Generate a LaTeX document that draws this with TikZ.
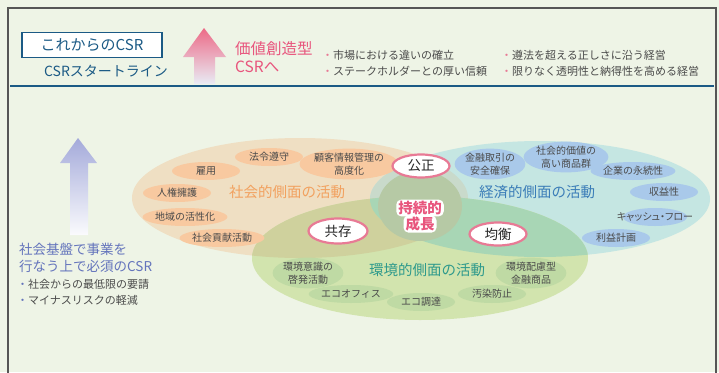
\documentclass[tikz,border=0pt]{standalone}
\usepackage{fontspec}
\setmainfont{Noto Sans CJK JP}
\newfontfamily\paltfont[RawFeature=+palt]{Noto Sans CJK JP}
\usetikzlibrary{shapes.geometric}
\definecolor{bg}{HTML}{EEF4E6}
\definecolor{frame}{HTML}{555555}
\definecolor{navy}{HTML}{1B5A85}
\definecolor{pinkt}{HTML}{E8557D}
\definecolor{pinkb}{HTML}{E87A95}
\definecolor{pinkarrow}{HTML}{EC6A86}
\definecolor{bluearrow}{HTML}{A4AADA}
\definecolor{bluet}{HTML}{6474BC}
\definecolor{lab}{HTML}{4A4A4A}
\definecolor{soc}{HTML}{EFDFC3}
\definecolor{socpill}{HTML}{F8C9A0}
\definecolor{eco}{HTML}{C5E6E2}
\definecolor{ecopill}{HTML}{A9C9EA}
\definecolor{env}{HTML}{D2E4AE}
\definecolor{envpill}{HTML}{BFDAA4}
\definecolor{socenv}{HTML}{CFD19D}
\definecolor{ecoenv}{HTML}{A8D6B5}
\definecolor{soceco}{HTML}{C9DACB}
\definecolor{core}{HTML}{B6C9A5}
\definecolor{soct}{HTML}{F2A15F}
\definecolor{ecot}{HTML}{3B7DB8}
\definecolor{envt}{HTML}{2E9A8C}
\tikzset{
  pill/.style={ellipse, minimum width=68pt, minimum height=18pt, inner sep=0pt,
    font=\fontsize{10}{12.5}\selectfont, text=lab, align=center},
  spill/.style={pill, fill=socpill},
  epill/.style={pill, fill=ecopill},
  gpill/.style={pill, fill=envpill},
  oval/.style={ellipse, draw=pinkb, line width=2.2pt, fill=white, inner sep=0pt,
    minimum width=57pt, minimum height=23pt, font=\fontsize{13.5}{15}\selectfont, text=black!85},
  area/.style={font=\fontsize{14.5}{16}\selectfont},
  bul/.style={anchor=west, font=\fontsize{11}{13}\selectfont, text=lab, inner sep=0pt},
  growthtext/.style={font=\bfseries\fontsize{14.5}{16}\selectfont, text=pinkt,
    fill=white, rounded corners=5pt, inner xsep=2pt, inner ysep=1.5pt}
}
\begin{document}
\begin{tikzpicture}[x=1pt,y=-1pt]
\useasboundingbox (0,0) rectangle (719,372);
\fill[bg] (0,0) rectangle (719,372);
\draw[frame, line width=1.2pt] (8,373) -- (8,8) -- (716,8) -- (716,373);
\draw[navy, line width=1.8pt] (10,86) -- (714,86);

% header
\node[draw=navy, line width=1.5pt, fill=white, minimum width=140pt, minimum height=25pt, inner sep=0pt,
  font=\fontsize{15}{17}\selectfont, text=navy] (now) at (92,45) {これからのCSR};
\node[font=\fontsize{14}{16}\selectfont, text=navy, inner sep=0pt] (start) at (106,71) {CSRスタートライン};
\shade[top color=pinkarrow, bottom color=white!90!blue!60!bg]
  (204,28) -- (226,57) -- (215,57) -- (215,84) -- (194,84) -- (194,57) -- (183,57) -- cycle;
\node[anchor=west, font=\fontsize{15.5}{18}\selectfont, text=pinkt, inner sep=0pt, align=left] (value) at (235,57) {価値創造型\\CSRへ};
\node[bul] (b1) at (322,55) {\textcolor{pinkb}{・}市場における違いの確立};
\node[bul] (b2) at (322,71) {\textcolor{pinkb}{・}ステークホルダーとの厚い信頼};
\node[bul] (b3) at (501,55) {\textcolor{pinkb}{・}遵法を超える正しさに沿う経営};
\node[bul] (b4) at (501,71) {\textcolor{pinkb}{・}限りなく透明性と納得性を高める経営};

% left arrow and text
\shade[top color=bluearrow, bottom color=white!95!bluearrow]
  (78,138) -- (97,163) -- (88,163) -- (88,235) -- (70,235) -- (70,163) -- (60,163) -- cycle;
\node[anchor=west, font=\fontsize{13.5}{17.5}\selectfont, text=bluet, inner sep=0pt, align=left] (base) at (19,258) {社会基盤で事業を\\行なう上で必須のCSR};
\node[bul] (l1) at (17,284) {\textcolor{bluet}{・}社会からの最低限の要請};
\node[bul] (l2) at (17,300) {\textcolor{bluet}{・}マイナスリスクの軽減};

% big ellipses
\fill[soc] (300,198) ellipse [x radius=168pt, y radius=60pt];
\fill[eco] (540,199) ellipse [x radius=170pt, y radius=58pt];
\fill[env] (420,258) ellipse [x radius=168pt, y radius=62pt];
\begin{scope}
  \clip (300,198) ellipse [x radius=168pt, y radius=60pt];
  \fill[soceco] (540,199) ellipse [x radius=170pt, y radius=58pt];
  \fill[socenv] (420,258) ellipse [x radius=168pt, y radius=62pt];
\end{scope}
\begin{scope}
  \clip (540,199) ellipse [x radius=170pt, y radius=58pt];
  \fill[ecoenv] (420,258) ellipse [x radius=168pt, y radius=62pt];
\end{scope}
\fill[core] (420,206) ellipse [x radius=42pt, y radius=35pt];

% social pills
\node[spill] (law) at (269,157) {法令遵守};
\node[spill] (job) at (206,171) {雇用};
\node[spill, minimum height=26pt] (cust) at (349,164) {顧客情報管理の\\高度化};
\node[spill] (rights) at (177,193) {人権擁護};
\node[spill] (local) at (185,217) {地域の活性化};
\node[spill] (contrib) at (222,238) {社会貢献活動};
\node[area, text=soct] (soclab) at (287,192) {社会的側面の活動};

% economic pills
\node[epill, minimum height=24pt] (fin) at (490,164) {金融取引の\\安全確保};
\node[epill, minimum height=22pt] (goods) at (566,157) {社会的価値の\\高い商品群};
\node[epill] (perm) at (633,171) {企業の永続性};
\node[epill] (profit) at (664,192) {収益性};
\node[epill, minimum width=64pt, text width=0pt, align=center] (cash) at (655,217) {\makebox[0pt]{\paltfont キャッシュ・フロー}};
\node[epill] (plan) at (616,238) {利益計画};
\node[area, text=ecot] (ecolab) at (537,192) {経済的側面の活動};

% environmental pills
\node[gpill, minimum height=25pt] (aware) at (308,273) {環境意識の\\啓発活動};
\node[gpill] (office) at (351,294) {エコオフィス};
\node[gpill] (procure) at (421,302) {エコ調達};
\node[gpill] (poll) at (492,294) {汚染防止};
\node[gpill, minimum height=25pt] (green) at (531,273) {環境配慮型\\金融商品};
\node[area, text=envt] (envlab) at (427,270) {環境的側面の活動};

% ovals
\node[oval] (fair) at (421,166) {公正};
\node[oval, minimum width=59pt, minimum height=25pt] (coex) at (338,231) {共存};
\node[oval] (bal) at (498,234) {均衡};

% sustainable growth
\node[growthtext] (growth1) at (420,208) {持続的};
\node[growthtext] (growth2) at (420,224) {成長};
\end{tikzpicture}
\end{document}
